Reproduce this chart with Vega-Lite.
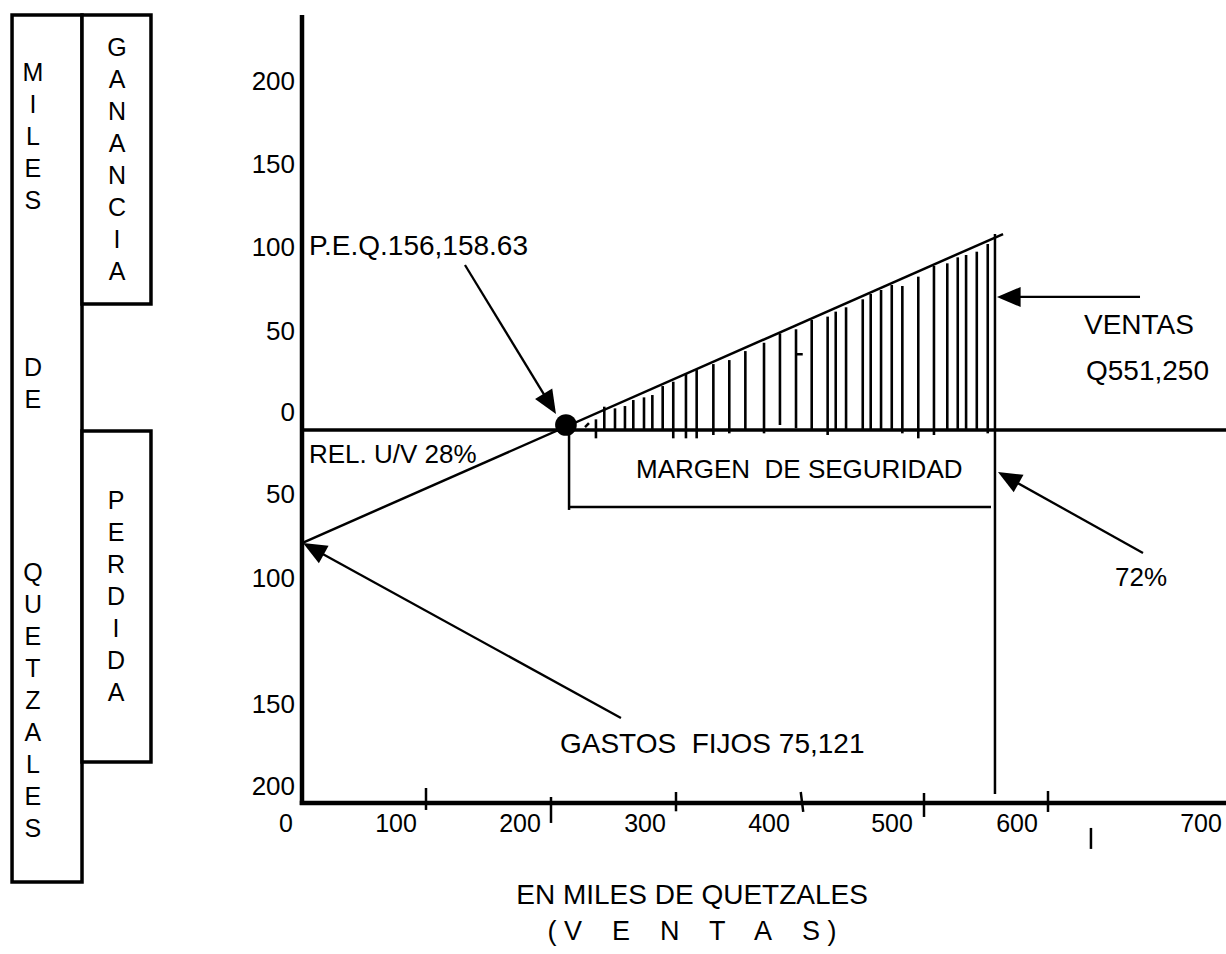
{
  "$schema": "https://vega.github.io/schema/vega-lite/v6.json",
  "width": 1226,
  "height": 954,
  "autosize": "none",
  "padding": 0,
  "background": "white",
  "config": {"view": {"stroke": null}},
  "datasets": {
    "boxes": [
      {"box": "MILES DE QUETZALES", "x": -232.9, "x2": -176.7, "y": 249.3, "y2": -271.5},
      {"box": "GANANCIA", "x": -176.7, "x2": -121.3, "y": 249.3, "y2": 75.7},
      {"box": "PERDIDA", "x": -176.7, "x2": -121.3, "y": -0.6, "y2": -199.4}
    ],
    "segments": [
      {"kind": "axis", "x": 0, "y": 249.3, "x2": 0, "y2": -225.2},
      {"kind": "axis", "x": -1.8, "y": -224.0, "x2": 742.2, "y2": -224.0},
      {"kind": "zero", "x": 0, "y": 0, "x2": 742.2, "y2": 0},
      {"kind": "line", "x": 0, "y": -67.9, "x2": 563.1, "y2": 117.7},
      {"kind": "line", "x": 556.6, "y": 117.7, "x2": 556.6, "y2": -218.6},
      {"kind": "line", "x": 214.5, "y": 0, "x2": 214.5, "y2": -48.0},
      {"kind": "line", "x": 214.5, "y": -46.3, "x2": 553.4, "y2": -46.3},
      {"kind": "tick", "x": 99.6, "y": -215.0, "x2": 99.6, "y2": -228.2},
      {"kind": "tick", "x": 200.0, "y": -220.4, "x2": 200.0, "y2": -236.0},
      {"kind": "tick", "x": 300.4, "y": -217.4, "x2": 300.4, "y2": -229.0},
      {"kind": "tick", "x": 400.6, "y": -217.4, "x2": 402.6, "y2": -229.4},
      {"kind": "tick", "x": 499.6, "y": -218.0, "x2": 499.6, "y2": -232.4},
      {"kind": "tick", "x": 599.2, "y": -216.8, "x2": 599.2, "y2": -229.4},
      {"kind": "tick", "x": 633.7, "y": -239.0, "x2": 633.7, "y2": -251.6},
      {"kind": "tick", "x": 396.8, "y": 45.5, "x2": 402.2, "y2": 45.5},
      {"kind": "tick", "x": 227.3, "y": 1.8, "x2": 230.5, "y2": 4.2}
    ],
    "hatch": [
      {"x": 236.1, "y": 6.4, "y2": -5.0},
      {"x": 242.8, "y": 14.0, "y2": 0},
      {"x": 251.4, "y": 13.0, "y2": 0.4},
      {"x": 259.4, "y": 14.4, "y2": 0.4},
      {"x": 266.1, "y": 18.0, "y2": 0.4},
      {"x": 274.7, "y": 19.6, "y2": 0.4},
      {"x": 281.4, "y": 21.0, "y2": 0.4},
      {"x": 289.7, "y": 26.4, "y2": 0.4},
      {"x": 298.2, "y": 29.0, "y2": -5.0},
      {"x": 308.4, "y": 33.6, "y2": -5.0},
      {"x": 317.0, "y": 36.0, "y2": -5.0},
      {"x": 330.4, "y": 39.6, "y2": -3.0},
      {"x": 343.2, "y": 42.0, "y2": -2.0},
      {"x": 356.1, "y": 47.4, "y2": 0.4},
      {"x": 371.1, "y": 52.4, "y2": -2.0},
      {"x": 383.9, "y": 58.0, "y2": 3.0},
      {"x": 396.8, "y": 60.5, "y2": 1.0},
      {"x": 409.4, "y": 66.1, "y2": 0.4},
      {"x": 422.2, "y": 68.1, "y2": -3.0},
      {"x": 428.7, "y": 71.1, "y2": 0.4},
      {"x": 437.0, "y": 73.7, "y2": 0.4},
      {"x": 450.4, "y": 78.5, "y2": 0.4},
      {"x": 456.8, "y": 81.7, "y2": 0.4},
      {"x": 465.1, "y": 84.1, "y2": 0.4},
      {"x": 473.7, "y": 87.1, "y2": 0.4},
      {"x": 482.2, "y": 86.5, "y2": -2.0},
      {"x": 495.0, "y": 92.1, "y2": -5.0},
      {"x": 507.6, "y": 98.5, "y2": -3.0},
      {"x": 518.3, "y": 100.1, "y2": 0.4},
      {"x": 526.7, "y": 103.7, "y2": 0.4},
      {"x": 533.4, "y": 105.1, "y2": 0.4},
      {"x": 542.0, "y": 107.1, "y2": 0.4},
      {"x": 550.8, "y": 111.7, "y2": -2.0}
    ],
    "arrows": [
      {"name": "P.E.Q.", "x": 130.9, "y": 99.1, "x2": 200.6, "y2": 13.7, "tx": 204.0, "ty": 9.6, "dir": 148.6},
      {"name": "GASTOS FIJOS", "x": 256.2, "y": -173.0, "x2": 6.4, "y2": -70.2, "tx": 0.8, "ty": -67.9, "dir": 298.8},
      {"name": "VENTAS", "x": 673.1, "y": 79.9, "x2": 564.7, "y2": 79.9, "tx": 558.2, "ty": 79.9, "dir": 270},
      {"name": "72%", "x": 675.5, "y": -73.9, "x2": 564.7, "y2": -27.6, "tx": 559.0, "ty": -25.2, "dir": 299.2}
    ],
    "dot": [{"name": "P.E.Q.", "x": 212.0, "y": 3.0}],
    "ylabels": [
      {"t": "200", "x": -5.6, "y": 209.0},
      {"t": "150", "x": -5.6, "y": 159.2},
      {"t": "100", "x": -5.6, "y": 109.3},
      {"t": "50", "x": -5.6, "y": 58.9},
      {"t": "0", "x": -5.6, "y": 10.2},
      {"t": "50", "x": -5.6, "y": -39.0},
      {"t": "100", "x": -5.6, "y": -89.5},
      {"t": "150", "x": -5.6, "y": -165.2},
      {"t": "200", "x": -5.6, "y": -214.4}
    ],
    "xlabels": [
      {"t": "0", "x": -12.9, "y": -236.6},
      {"t": "100", "x": 75.5, "y": -236.6},
      {"t": "200", "x": 175.1, "y": -236.6},
      {"t": "300", "x": 275.5, "y": -236.6},
      {"t": "400", "x": 375.1, "y": -236.6},
      {"t": "500", "x": 473.9, "y": -236.6},
      {"t": "600", "x": 574.3, "y": -236.6},
      {"t": "700", "x": 722.1, "y": -236.6}
    ],
    "notesLeft": [
      {"t": "REL. U/V 28%", "x": 5.6, "y": -15.0},
      {"t": "MARGEN\u00a0 DE SEGURIDAD", "x": 268.3, "y": -24.0},
      {"t": "72%", "x": 653.0, "y": -88.9}
    ],
    "notesWide": [
      {"t": "P.E.Q.156,158.63", "x": 5.6, "y": 109.9},
      {"t": "GASTOS\u00a0 FIJOS 75,121", "x": 207.2, "y": -189.2},
      {"t": "VENTAS", "x": 628.1, "y": 62.5},
      {"t": "Q551,250", "x": 629.7, "y": 34.8}
    ],
    "title": [
      {"t": "EN MILES DE QUETZALES", "x": 313.3, "y": -279.9}
    ],
    "subtitle": [
      {"t": "( V\u00a0\u00a0\u00a0 E\u00a0\u00a0\u00a0 N\u00a0\u00a0\u00a0 T\u00a0\u00a0\u00a0 A\u00a0\u00a0\u00a0 S )", "x": 313.3, "y": -301.5}
    ],
    "vwords": [
      {"t": "M\nI\nL\nE\nS", "x": -216.1, "y": 221.6},
      {"t": "D\nE", "x": -216.1, "y": 44.4},
      {"t": "Q\nU\nE\nT\nZ\nA\nL\nE\nS", "x": -216.1, "y": -78.7},
      {"t": "G\nA\nN\nA\nN\nC\nI\nA", "x": -148.6, "y": 236.6},
      {"t": "P\nE\nR\nD\nI\nD\nA", "x": -149.4, "y": -35.4}
    ]
  },
  "layer": [
    {
      "data": {"name": "boxes"},
      "mark": {"type": "rect", "fill": "white", "stroke": "black", "strokeWidth": 3.5},
      "encoding": {
        "x": {"field": "x", "type": "quantitative", "scale": {"domain": [-242.57, 742.17], "nice": false, "zero": false}, "axis": null},
        "x2": {"field": "x2"},
        "y": {"field": "y", "type": "quantitative", "scale": {"domain": [-314.71, 258.26], "nice": false, "zero": false}, "axis": null},
        "y2": {"field": "y2"}
      }
    },
    {
      "data": {"name": "hatch"},
      "mark": {"type": "rule", "color": "black", "strokeWidth": 2.6},
      "encoding": {
        "x": {"field": "x", "type": "quantitative", "scale": {"domain": [-242.57, 742.17], "nice": false, "zero": false}, "axis": null},
        "y": {"field": "y", "type": "quantitative", "scale": {"domain": [-314.71, 258.26], "nice": false, "zero": false}, "axis": null},
        "y2": {"field": "y2"}
      }
    },
    {
      "data": {"name": "segments"},
      "transform": [{"filter": "datum.kind === 'axis'"}],
      "mark": {"type": "rule", "color": "black", "strokeWidth": 4.5},
      "encoding": {
        "x": {"field": "x", "type": "quantitative", "scale": {"domain": [-242.57, 742.17], "nice": false, "zero": false}, "axis": null},
        "x2": {"field": "x2"},
        "y": {"field": "y", "type": "quantitative", "scale": {"domain": [-314.71, 258.26], "nice": false, "zero": false}, "axis": null},
        "y2": {"field": "y2"}
      }
    },
    {
      "data": {"name": "segments"},
      "transform": [{"filter": "datum.kind === 'zero'"}],
      "mark": {"type": "rule", "color": "black", "strokeWidth": 3.6},
      "encoding": {
        "x": {"field": "x", "type": "quantitative", "scale": {"domain": [-242.57, 742.17], "nice": false, "zero": false}, "axis": null},
        "x2": {"field": "x2"},
        "y": {"field": "y", "type": "quantitative", "scale": {"domain": [-314.71, 258.26], "nice": false, "zero": false}, "axis": null},
        "y2": {"field": "y2"}
      }
    },
    {
      "data": {"name": "segments"},
      "transform": [{"filter": "datum.kind === 'line' || datum.kind === 'tick'"}],
      "mark": {"type": "rule", "color": "black", "strokeWidth": 2.5},
      "encoding": {
        "x": {"field": "x", "type": "quantitative", "scale": {"domain": [-242.57, 742.17], "nice": false, "zero": false}, "axis": null},
        "x2": {"field": "x2"},
        "y": {"field": "y", "type": "quantitative", "scale": {"domain": [-314.71, 258.26], "nice": false, "zero": false}, "axis": null},
        "y2": {"field": "y2"}
      }
    },
    {
      "data": {"name": "arrows"},
      "mark": {"type": "rule", "color": "black", "strokeWidth": 2.3},
      "encoding": {
        "x": {"field": "x", "type": "quantitative", "scale": {"domain": [-242.57, 742.17], "nice": false, "zero": false}, "axis": null},
        "x2": {"field": "x2"},
        "y": {"field": "y", "type": "quantitative", "scale": {"domain": [-314.71, 258.26], "nice": false, "zero": false}, "axis": null},
        "y2": {"field": "y2"}
      }
    },
    {
      "data": {"name": "arrows"},
      "mark": {"type": "point", "shape": "M0,0L0.85,2L-0.85,2Z", "size": 560, "filled": true, "opacity": 1, "color": "black", "strokeWidth": 0},
      "encoding": {
        "x": {"field": "tx", "type": "quantitative", "scale": {"domain": [-242.57, 742.17], "nice": false, "zero": false}, "axis": null},
        "y": {"field": "ty", "type": "quantitative", "scale": {"domain": [-314.71, 258.26], "nice": false, "zero": false}, "axis": null},
        "angle": {"field": "dir", "type": "quantitative", "scale": null}
      }
    },
    {
      "data": {"name": "dot"},
      "mark": {"type": "point", "shape": "circle", "size": 470, "filled": true, "opacity": 1, "color": "black"},
      "encoding": {
        "x": {"field": "x", "type": "quantitative", "scale": {"domain": [-242.57, 742.17], "nice": false, "zero": false}, "axis": null},
        "y": {"field": "y", "type": "quantitative", "scale": {"domain": [-314.71, 258.26], "nice": false, "zero": false}, "axis": null}
      }
    },
    {
      "data": {"name": "ylabels"},
      "mark": {"type": "text", "align": "right", "baseline": "middle", "font": "Liberation Sans", "fontSize": 26, "color": "black"},
      "encoding": {
        "x": {"field": "x", "type": "quantitative", "scale": {"domain": [-242.57, 742.17], "nice": false, "zero": false}, "axis": null},
        "y": {"field": "y", "type": "quantitative", "scale": {"domain": [-314.71, 258.26], "nice": false, "zero": false}, "axis": null},
        "text": {"field": "t"}
      }
    },
    {
      "data": {"name": "xlabels"},
      "mark": {"type": "text", "align": "center", "baseline": "middle", "font": "Liberation Sans", "fontSize": 25, "color": "black"},
      "encoding": {
        "x": {"field": "x", "type": "quantitative", "scale": {"domain": [-242.57, 742.17], "nice": false, "zero": false}, "axis": null},
        "y": {"field": "y", "type": "quantitative", "scale": {"domain": [-314.71, 258.26], "nice": false, "zero": false}, "axis": null},
        "text": {"field": "t"}
      }
    },
    {
      "data": {"name": "notesLeft"},
      "mark": {"type": "text", "align": "left", "baseline": "middle", "font": "Liberation Sans", "fontSize": 26, "color": "black"},
      "encoding": {
        "x": {"field": "x", "type": "quantitative", "scale": {"domain": [-242.57, 742.17], "nice": false, "zero": false}, "axis": null},
        "y": {"field": "y", "type": "quantitative", "scale": {"domain": [-314.71, 258.26], "nice": false, "zero": false}, "axis": null},
        "text": {"field": "t"}
      }
    },
    {
      "data": {"name": "notesWide"},
      "mark": {"type": "text", "align": "left", "baseline": "middle", "font": "Liberation Sans", "fontSize": 28, "color": "black"},
      "encoding": {
        "x": {"field": "x", "type": "quantitative", "scale": {"domain": [-242.57, 742.17], "nice": false, "zero": false}, "axis": null},
        "y": {"field": "y", "type": "quantitative", "scale": {"domain": [-314.71, 258.26], "nice": false, "zero": false}, "axis": null},
        "text": {"field": "t"}
      }
    },
    {
      "data": {"name": "title"},
      "mark": {"type": "text", "align": "center", "baseline": "middle", "font": "Liberation Sans", "fontSize": 28, "color": "black"},
      "encoding": {
        "x": {"field": "x", "type": "quantitative", "scale": {"domain": [-242.57, 742.17], "nice": false, "zero": false}, "axis": null},
        "y": {"field": "y", "type": "quantitative", "scale": {"domain": [-314.71, 258.26], "nice": false, "zero": false}, "axis": null},
        "text": {"field": "t"}
      }
    },
    {
      "data": {"name": "subtitle"},
      "mark": {"type": "text", "align": "center", "baseline": "middle", "font": "Liberation Sans", "fontSize": 27, "color": "black"},
      "encoding": {
        "x": {"field": "x", "type": "quantitative", "scale": {"domain": [-242.57, 742.17], "nice": false, "zero": false}, "axis": null},
        "y": {"field": "y", "type": "quantitative", "scale": {"domain": [-314.71, 258.26], "nice": false, "zero": false}, "axis": null},
        "text": {"field": "t"}
      }
    },
    {
      "data": {"name": "vwords"},
      "mark": {"type": "text", "align": "center", "baseline": "top", "lineBreak": "\n", "lineHeight": 32, "font": "Liberation Sans", "fontSize": 25, "color": "black"},
      "encoding": {
        "x": {"field": "x", "type": "quantitative", "scale": {"domain": [-242.57, 742.17], "nice": false, "zero": false}, "axis": null},
        "y": {"field": "y", "type": "quantitative", "scale": {"domain": [-314.71, 258.26], "nice": false, "zero": false}, "axis": null},
        "text": {"field": "t"}
      }
    }
  ]
}
